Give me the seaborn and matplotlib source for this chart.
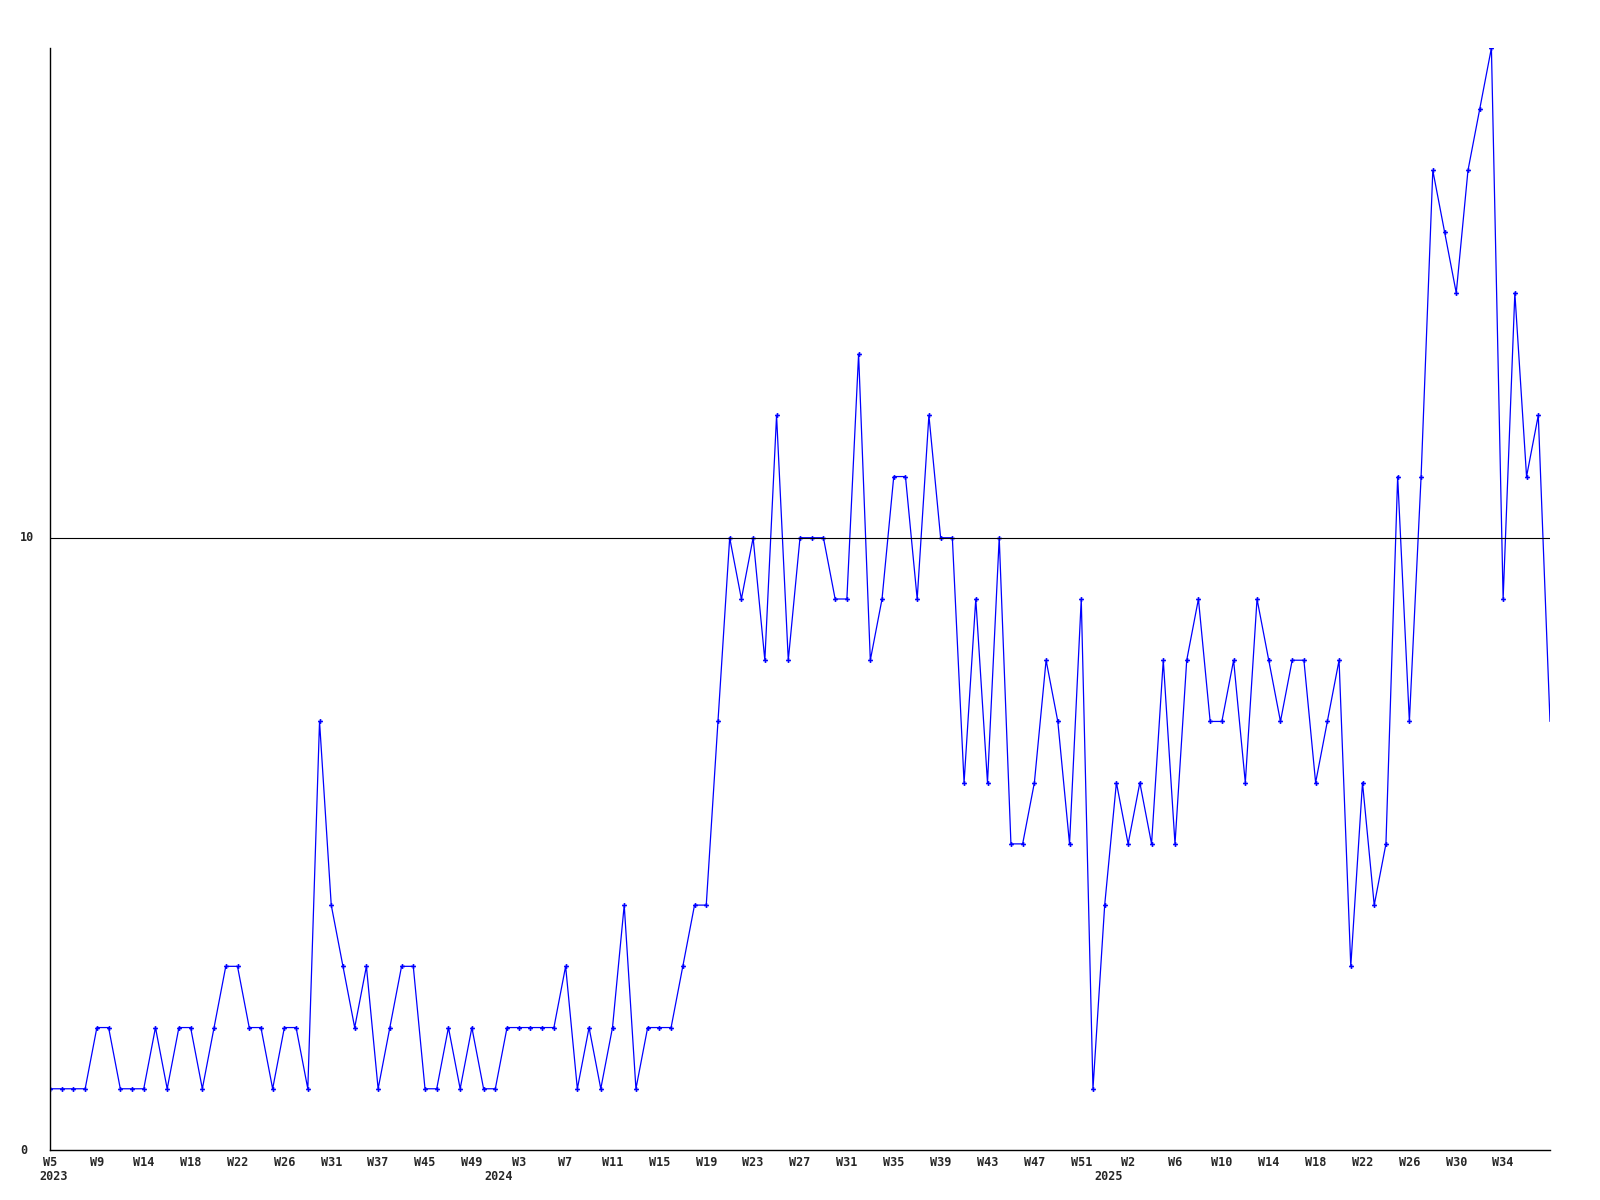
import numpy as np
import pandas as pd
import seaborn as sns
import matplotlib.pyplot as plt

# weekly counts, one point per week shown on the chart
counts = [
    1, 1, 1, 1, 2, 2, 1, 1, 1, 2, 1, 2, 2, 1, 2, 3, 3, 2, 2, 1,
    2, 2, 1, 7, 4, 3, 2, 3, 1, 2, 3, 3, 1, 1, 2, 1, 2, 1, 1, 2,
    2, 2, 2, 2, 3, 1, 2, 1, 2, 4, 1, 2, 2, 2, 3, 4, 4, 7, 10, 9,
    10, 8, 12, 8, 10, 10, 10, 9, 9, 13, 8, 9, 11, 11, 9, 12, 10, 10, 6, 9,
    6, 10, 5, 5, 6, 8, 7, 5, 9, 1, 4, 6, 5, 6, 5, 8, 5, 8, 9, 7,
    7, 8, 6, 9, 8, 7, 8, 8, 6, 7, 8, 3, 6, 4, 5, 11, 7, 11, 16, 15,
    14, 16, 17, 18, 9, 14, 11, 12, 7,
]

# a label on every 4th point
week_labels = [
    "W5", "W9", "W14", "W18", "W22", "W26", "W31", "W37", "W45", "W49",
    "W3", "W7", "W11", "W15", "W19", "W23", "W27", "W31", "W35", "W39",
    "W43", "W47", "W51", "W2", "W6", "W10", "W14", "W18", "W22", "W26",
    "W30", "W34",
]
year_labels = ["2023", "2024", "2025"]
year_index = [0, 38, 90]

y_ticks = [0, 10]
threshold = 10

df = pd.DataFrame({"week": np.arange(len(counts)), "count": counts})

sns.set_style("white")
plt.rcParams["font.family"] = ["DejaVu Sans Mono"]

fig, ax = plt.subplots(figsize=(16, 12), dpi=100)
fig.subplots_adjust(left=50 / 1600, right=1550 / 1600, top=1 - 48 / 1200, bottom=1 - 1150 / 1200)

# last point is drawn without a marker, like the original
sns.lineplot(data=df, x="week", y="count", color="#0000ff", linewidth=0.9,
             marker="P", markersize=3.5, markeredgewidth=0,
             markevery=list(range(len(counts) - 1)), ax=ax)
ax.axhline(threshold, color="black", linewidth=0.8)

ax.set_xlim(0, len(counts) - 1)
ax.set_ylim(0, 18)
ax.set_xlabel("")
ax.set_ylabel("")

ax.set_xticks(np.arange(0, len(counts) - 1, 4))
ax.set_xticklabels(week_labels, fontsize=8.5, fontweight="bold")
ax.tick_params(axis="x", length=0, pad=4)

# y labels sit left aligned near the figure edge
ax.set_yticks([])
for v in y_ticks:
    ax.text(-30 / 1500, v, str(v), transform=ax.get_yaxis_transform(),
            ha="left", va="center", fontsize=8.5, fontweight="bold")

for lab, pos in zip(year_labels, year_index):
    ax.text(pos + 0.3, -0.0245, lab, transform=ax.get_xaxis_transform(),
            ha="center", va="center", fontsize=8.5, fontweight="bold")

sns.despine(ax=ax)
for side in ["left", "bottom"]:
    ax.spines[side].set_color("black")
    ax.spines[side].set_linewidth(1)

fig.savefig("out.png", dpi=100, facecolor="white")
